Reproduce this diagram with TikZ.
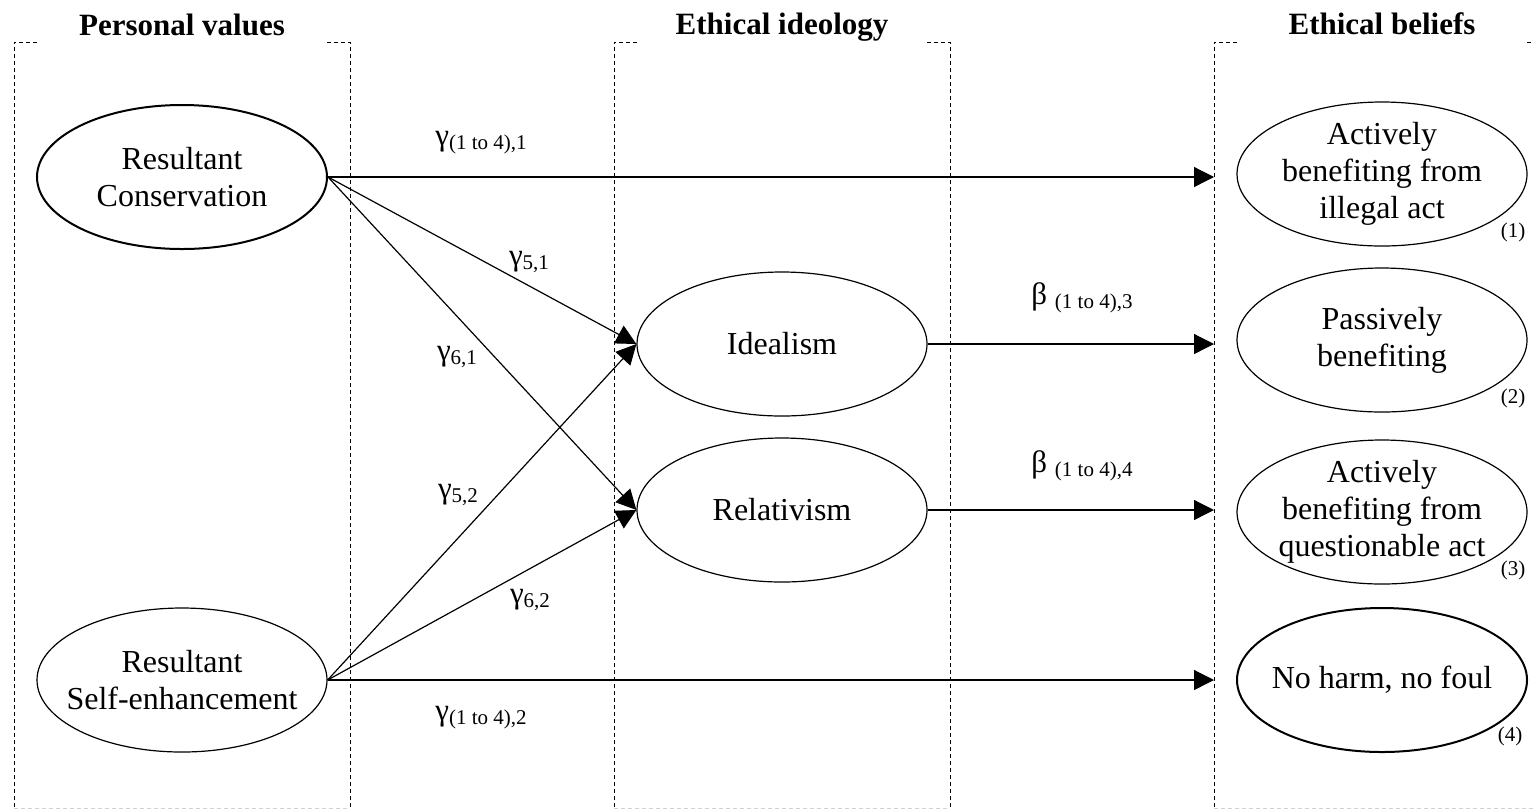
\documentclass[tikz,border=0pt]{standalone}
\usepackage{fontspec}
\setmainfont{Liberation Serif}
\usetikzlibrary{shapes.geometric,arrows.meta}

\newcommand{\gsub}[1]{{\fontsize{10.5}{12}\selectfont\raisebox{-2pt}{#1}}}

\begin{document}
\begin{tikzpicture}[x=0.5pt,y=-0.5pt,
    latent/.style={ellipse,draw,line width=0.6pt,minimum width=145pt,minimum height=72pt,
      inner sep=-20pt,align=center,font=\fontsize{16}{18.5}\selectfont},
    thick latent/.style={latent,line width=1pt},
    head/.style={font=\fontsize{15.5}{18.5}\selectfont\bfseries,anchor=base},
    coef/.style={font=\fontsize{15.5}{18}\selectfont},
    num/.style={font=\fontsize{10.5}{12}\selectfont},
    column/.style={dash pattern=on 2pt off 1.5pt,line width=0.5pt},
    link/.style={line width=0.6pt,-{Triangle[length=10pt,width=10pt]}}]
  \useasboundingbox (0,0) rectangle (1534,810);

  % columns
  \draw[column] (37,42) -| (14,808);
  \draw[column] (327,42) -| (350,808);
  \draw[column,gray!35] (14,808) -- (350,808);
  \draw[column] (637,42) -| (614,808);
  \draw[column] (927,42) -| (950,808);
  \draw[column,gray!35] (614,808) -- (950,808);
  \draw[column] (1237,42) -| (1214,808);
  \draw[column] (1527,42) -- (1534,42);
  \draw[column,gray!35] (1214,808) -- (1534,808);
  \coordinate (beliefs) at (1214,0);

  \node[head] (pv) at (182,35) {Personal values};
  \node[head] (ei) at (782,34) {Ethical ideology};
  \node[head] (eb) at (1382,34) {Ethical beliefs};

  % latent variables
  \node[thick latent] (cons) at (182,177) {Resultant\\Conservation};
  \node[latent] (self) at (182,680) {Resultant\\Self-enhancement};
  \node[latent] (ideal) at (782,344) {Idealism};
  \node[latent] (rel) at (782,510) {Relativism};
  \node[latent] (b1) at (1382,174) {Actively\\benefiting from\\illegal act};
  \node[latent] (b2) at (1382,340) {Passively\\benefiting};
  \node[latent] (b3) at (1382,512) {Actively\\benefiting from\\questionable act};
  \node[thick latent] (b4) at (1382,680) {No harm, no foul};

  \node[num] (n1) at (1513,232) {(1)};
  \node[num] (n2) at (1513,398) {(2)};
  \node[num] (n3) at (1513,570) {(3)};
  \node[num] (n4) at (1510,736) {(4)};

  % paths
  \draw[link] (cons.east) -- (cons.east -| beliefs);
  \draw[link] (cons.east) -- (ideal.west);
  \draw[link] (cons.east) -- (rel.west);
  \draw[link] (self.east) -- (ideal.west);
  \draw[link] (self.east) -- (rel.west);
  \draw[link] (self.east) -- (self.east -| beliefs);
  \draw[link] (ideal.east) -- (ideal.east -| beliefs);
  \draw[link] (rel.east) -- (rel.east -| beliefs);

  \node[coef] (g1) at (481,143) {γ\gsub{(1 to 4),1}};
  \node[coef] (g51) at (529,262) {γ\gsub{5,1}};
  \node[coef] (g61) at (457,357) {γ\gsub{6,1}};
  \node[coef] (g52) at (458,495) {γ\gsub{5,2}};
  \node[coef] (g62) at (530,600) {γ\gsub{6,2}};
  \node[coef] (g2) at (481,718) {γ\gsub{(1 to 4),2}};
  \node[coef] (b3c) at (1082,298) {β \gsub{(1 to 4),3}};
  \node[coef] (b4c) at (1082,466) {β \gsub{(1 to 4),4}};
\end{tikzpicture}
\end{document}
